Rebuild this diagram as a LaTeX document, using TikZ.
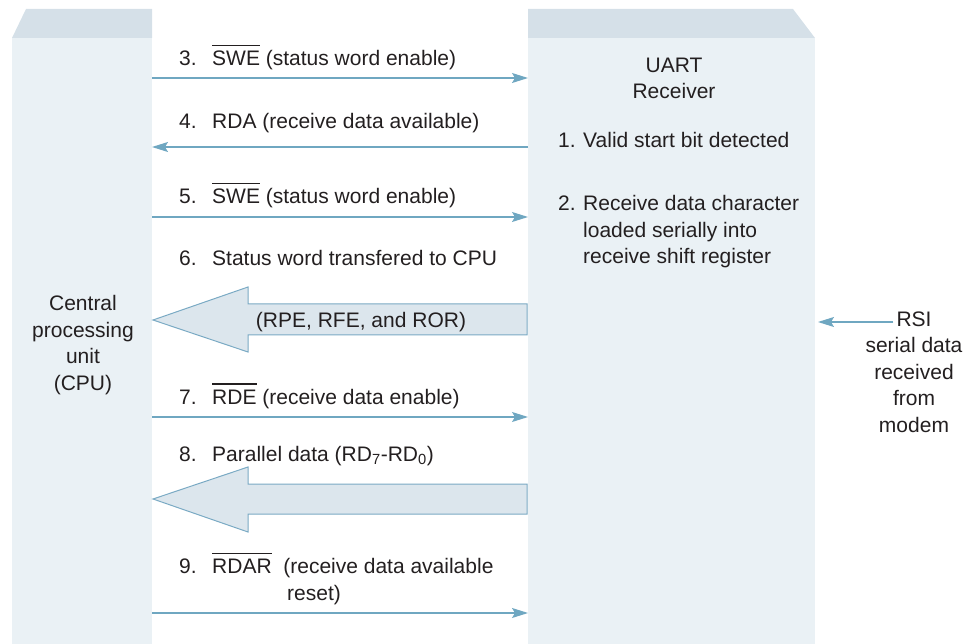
\documentclass[tikz,border=0pt]{standalone}
\usepackage{fontspec}
\setmainfont{Liberation Sans}
\usetikzlibrary{arrows.meta}
\definecolor{topface}{HTML}{D5E0E8}
\definecolor{frontface}{HTML}{EAF1F5}
\definecolor{linec}{HTML}{6FA7C1}
\definecolor{bigfill}{HTML}{DCE6ED}
\definecolor{bigline}{HTML}{7AAAC4}
\definecolor{txt}{HTML}{231F20}
\newcommand\ovl[1]{\setbox0\hbox{#1}\rlap{\rule[19.5pt]{\wd0}{1.2pt}}\box0\relax}
\begin{document}
\begin{tikzpicture}[x=1pt,y=-1pt,
  face/.style={fill=frontface, draw=none, inner sep=0pt, outer sep=0pt, anchor=north west},
  flow/.style={draw=linec, line width=1.2pt, -{Stealth[length=16pt,width=10pt,inset=3pt]}},
  bigarrow/.style={fill=bigfill, draw=bigline, line width=1pt, line join=miter},
  lbl/.style={anchor=base west, inner sep=0pt, text=txt, font=\fontsize{21}{26.5}\selectfont}]
\useasboundingbox (0,0) rectangle (975,644);
% blocks
\node[face, minimum width=140pt, minimum height=606pt] (cpu) at (12,38) {};
\node[face, minimum width=287pt, minimum height=606pt] (uart) at (528,38) {};
\fill[topface] (12,38) -- (26,9) -- (152,9) -- (152,38) -- cycle;
\fill[topface] (528,38) -- (528,9) -- (793,9) -- (815,38) -- cycle;
% thin arrows
\draw[flow] (cpu.east |- 0,78) -- (uart.west |- 0,78);
\draw[flow] (uart.west |- 0,147) -- (cpu.east |- 0,147);
\draw[flow] (cpu.east |- 0,217) -- (uart.west |- 0,217);
\draw[flow] (cpu.east |- 0,417) -- (uart.west |- 0,417);
\draw[flow] (cpu.east |- 0,613) -- (uart.west |- 0,613);
% big arrows
\filldraw[bigarrow] (527,304) -- (248,304) -- (248,287) -- (153,320) -- (248,352) -- (248,335) -- (527,335) -- cycle;
\filldraw[bigarrow] (527,484) -- (248,484) -- (248,467) -- (153,499) -- (248,532) -- (248,514) -- (527,514) -- cycle;
% labels
\node[lbl] (t3) at (179,65.5) {\makebox[33pt][l]{3.}\ovl{SWE} (status word enable)};
\node[lbl] (t4) at (179,129) {\makebox[33pt][l]{4.}RDA (receive data available)};
\node[lbl] (t5) at (179,204) {\makebox[33pt][l]{5.}\ovl{SWE} (status word enable)};
\node[lbl] (t6) at (179,266) {\makebox[33pt][l]{6.}Status word transfered to CPU};
\node[lbl, anchor=base] (t6b) at (361,327.5) {(RPE, RFE, and ROR)};
\node[lbl] (t7) at (179,404) {\makebox[33pt][l]{7.}\ovl{RDE} (receive data enable)};
\node[lbl] (t8) at (179,461.5) {\makebox[33pt][l]{8.}Parallel data (RD\textsubscript{7}-RD\textsubscript{0})};
\node[lbl, align=left] (t9) at (179,600) {\makebox[33pt][l]{9.}\ovl{RDAR}\ \ (receive data available\\\hspace*{108pt}reset)};
\node[lbl, anchor=base, align=center] (uartlbl) at (674,99) {UART\\Receiver};
\node[lbl] (i1) at (558,148) {\makebox[25pt][l]{1.}Valid start bit detected};
\node[lbl, align=left] (i2) at (558,264) {\makebox[25pt][l]{2.}Receive data character\\\hspace*{25pt}loaded serially into\\\hspace*{25pt}receive shift register};
\node[lbl, anchor=base, align=center] (cpulbl) at (83,390) {Central\\processing\\unit\\(CPU)};
\node[lbl, anchor=base] (rsi) at (914,327) {RSI};
\node[lbl, anchor=base, align=center] (rsitxt) at (914,432) {serial data\\received\\from\\modem};
\coordinate (rsitip) at (818,322);
\draw[flow] ([xshift=-3pt]rsi.west |- rsitip) -- (rsitip);
\end{tikzpicture}
\end{document}
